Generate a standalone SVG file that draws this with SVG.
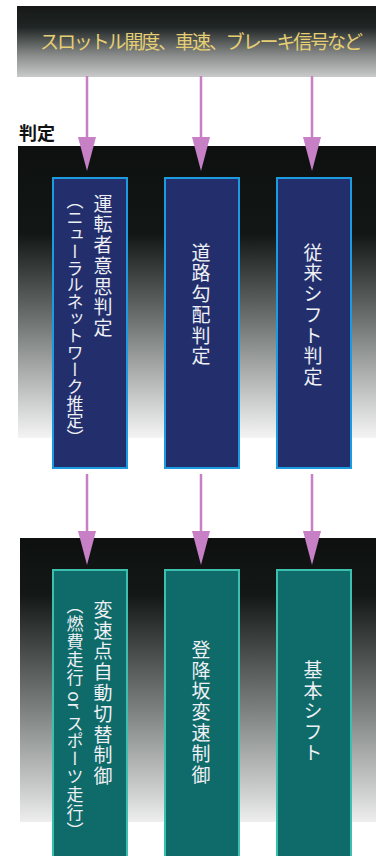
<svg xmlns="http://www.w3.org/2000/svg" width="376" height="856" viewBox="0 0 376 856">
<defs>
<linearGradient id="g1" x1="0" y1="0" x2="0" y2="1">
<stop offset="0" stop-color="#151817"/>
<stop offset="0.3" stop-color="#202625"/>
<stop offset="0.7" stop-color="#8a8d8c"/>
<stop offset="1" stop-color="#c9cbca"/>
</linearGradient>
<linearGradient id="g2" x1="0" y1="0" x2="0" y2="1">
<stop offset="0" stop-color="#0d100e"/>
<stop offset="0.3" stop-color="#121715"/>
<stop offset="0.6" stop-color="#6f7472"/>
<stop offset="0.85" stop-color="#c4c6c5"/>
<stop offset="1" stop-color="#f4f4f4"/>
</linearGradient>
<linearGradient id="g3" x1="0" y1="0" x2="0" y2="1">
<stop offset="0" stop-color="#0d100e"/>
<stop offset="0.2" stop-color="#131816"/>
<stop offset="0.6" stop-color="#7b807e"/>
<stop offset="0.9" stop-color="#cfd1d0"/>
<stop offset="1" stop-color="#eeeeee"/>
</linearGradient>
<marker id="ah" markerWidth="34" markerHeight="18" refX="0" refY="9" orient="auto" markerUnits="userSpaceOnUse" viewBox="0 0 34 18">
<path d="M0,0 L34,9 L0,18 Z" fill="#c77fc6"/>
</marker>
</defs>
<style>
.jt{font-family:"Noto Sans CJK JP","Noto Sans",sans-serif;}
.nav{fill:#232f6d;stroke:#1d9be0;stroke-width:2;}
.tel{fill:#0f6a6a;stroke:#3bbfae;stroke-width:2;}
.vt{writing-mode:vertical-rl;fill:#eef0f4;font-size:19px;}
.con{stroke:#c77fc6;stroke-width:2.5;fill:none;}
</style>
<rect width="376" height="856" fill="#ffffff"/>
<g id="bands">
<rect x="17" y="6" width="359" height="71" fill="url(#g1)"/>
<rect x="18" y="146" width="358" height="292" fill="url(#g2)"/>
<rect x="20" y="538" width="356" height="284" fill="url(#g3)"/>
</g>
<g id="inputs">
<text class="jt" x="40" y="49" font-size="19" fill="#e6cf72" textLength="323" lengthAdjust="spacing">スロットル開度、車速、ブレーキ信号など</text>
</g>
<g id="label-hantei">
<text class="jt" x="19" y="140" font-size="18" font-weight="bold" fill="#111">判定</text>
</g>
<g id="connectors">
<path class="con" d="M87,76 V137" marker-end="url(#ah)"/>
<path class="con" d="M201,76 V137" marker-end="url(#ah)"/>
<path class="con" d="M312,76 V137" marker-end="url(#ah)"/>
<path class="con" d="M87,474 V531" marker-end="url(#ah)"/>
<path class="con" d="M201,474 V531" marker-end="url(#ah)"/>
<path class="con" d="M312,474 V531" marker-end="url(#ah)"/>
</g>
<g id="node-driver">
<rect class="nav" x="53" y="178" width="74" height="290"/>
<text class="jt vt" x="103" y="194" letter-spacing="1.7">運転者意思判定</text>
<text class="jt vt" x="75" y="192" style="font-size:17px" letter-spacing="-0.1">（ニューラルネットワーク推定）</text>
</g>
<g id="node-slope">
<rect class="nav" x="165" y="178" width="74" height="290"/>
<text class="jt vt" x="201" y="243" letter-spacing="1.7">道路勾配判定</text>
</g>
<g id="node-conv">
<rect class="nav" x="277" y="178" width="74" height="290"/>
<text class="jt vt" x="313" y="243" letter-spacing="1.7">従来シフト判定</text>
</g>
<g id="node-auto">
<rect class="tel" x="53" y="570" width="74" height="290"/>
<text class="jt vt" x="103" y="600" letter-spacing="1.8">変速点自動切替制御</text>
<text class="jt vt" x="75" y="597" style="font-size:17px" letter-spacing="0.9">（燃費走行 or スポーツ走行）</text>
</g>
<g id="node-updown">
<rect class="tel" x="165" y="570" width="74" height="290"/>
<text class="jt vt" x="201" y="640" letter-spacing="1.8">登降坂変速制御</text>
</g>
<g id="node-basic">
<rect class="tel" x="277" y="570" width="74" height="290"/>
<text class="jt vt" x="313" y="660" letter-spacing="1.8">基本シフト</text>
</g>
</svg>
